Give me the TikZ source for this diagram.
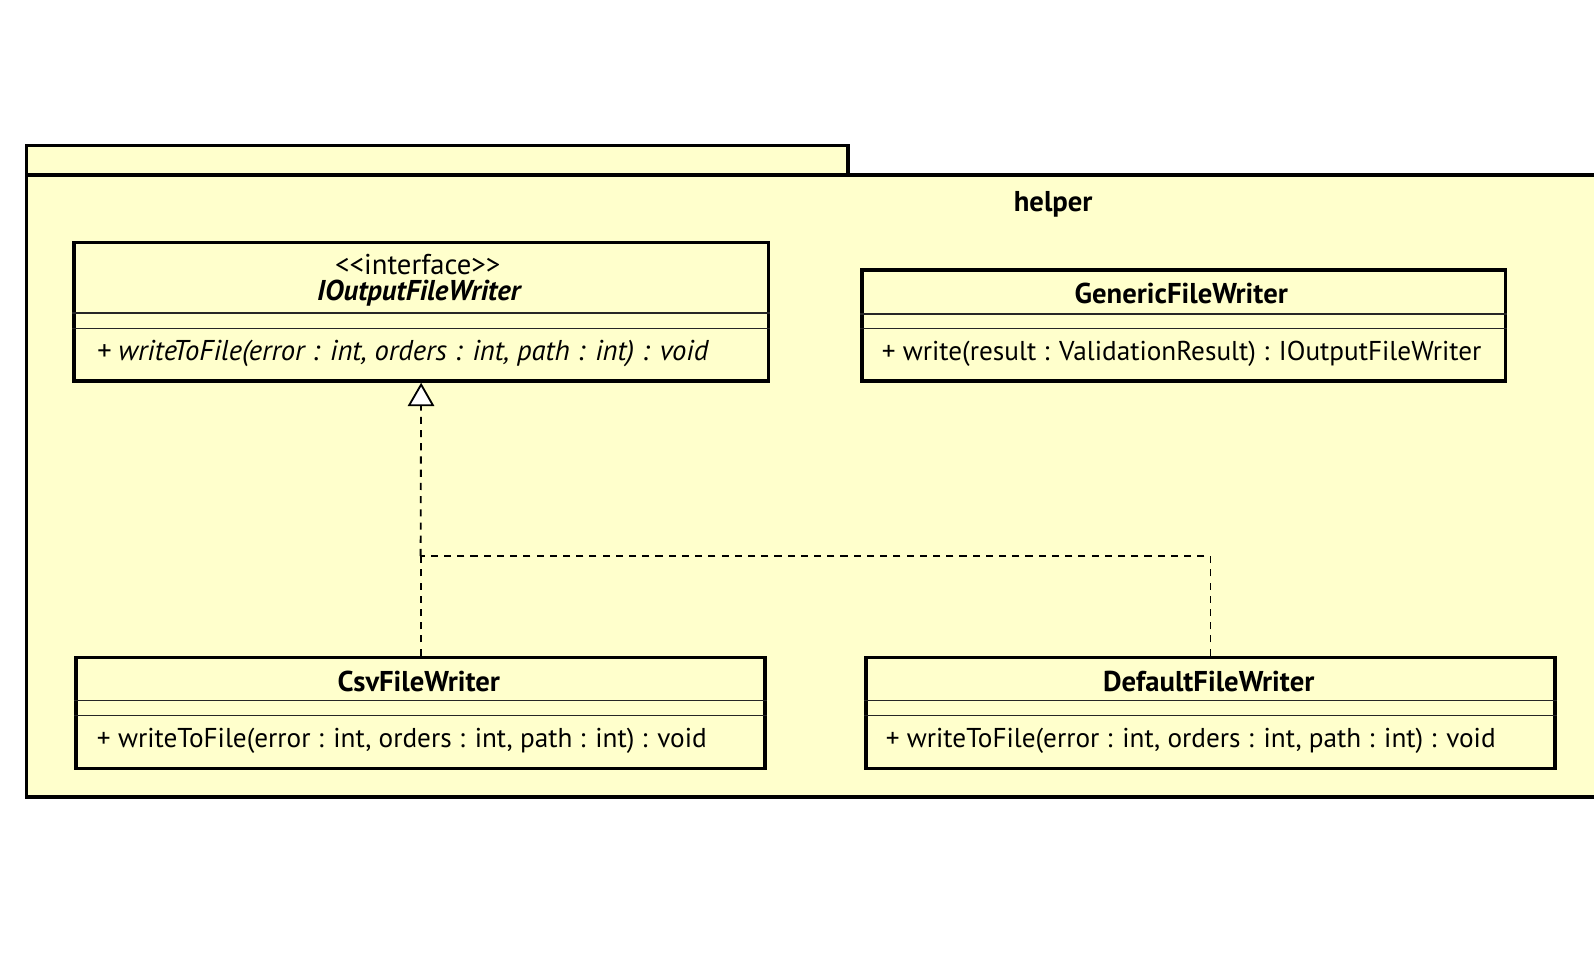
\documentclass[tikz,border=0pt]{standalone}
\usepackage{fontspec}
\setmainfont{PT Sans}
\usetikzlibrary{arrows.meta}
\definecolor{pkgfill}{HTML}{FFFFCC}
\newcommand{\umlfont}{\fontsize{14.1}{16}\selectfont}
\newcommand{\umlmemberfont}{\fontsize{13.4}{16}\selectfont}
\begin{document}
\begin{tikzpicture}[x=0.5pt,y=-0.5pt,
  font=\umlfont,
  pkgline/.style={draw=black, line width=1.75pt},
  classbox/.style={draw=black, line width=1.75pt, fill=pkgfill, inner sep=0pt, anchor=north west},
  sepline/.style={draw=black!85, line width=0.7pt},
  cname/.style={font=\umlfont\bfseries, inner sep=0pt},
  member/.style={anchor=west, inner sep=0pt, font=\umlmemberfont},
  realizes/.style={draw=black, line width=0.9pt, dash pattern=on 3.5pt off 3pt},
  hollowtip/.style={-{Triangle[length=11.5pt,width=13pt,fill=white,line width=0.9pt]}}
]
\useasboundingbox (0,0) rectangle (1568,958);
\fill[white] (0,0) rectangle (1568,958);
\clip (0,0) rectangle (1568,958);
% package
\fill[pkgfill] (26,143) rectangle (834,172);
\draw[pkgline] (26,172) -- (26,143) -- (834,143) -- (834,172);
\fill[pkgfill] (26,172) rectangle (1580,784);
\draw[pkgline] (1580,172) -- (26,172) -- (26,784) -- (1580,784);
\node[cname] (helper) at (1036,201) {helper};

% IOutputFileWriter
\node[classbox, minimum width=341.5pt, minimum height=68pt] (iface) at (71,237) {};
\node[inner sep=0pt] (ster) at (411,260) {{<}{<}interface{>}{>}};
\node[cname, font=\umlfont\bfseries\itshape] (ifacename) at (412,288) {IOutputFileWriter};
\draw[sepline] (iface.west |- 0,308) -- (iface.east |- 0,308);
\draw[sepline] (iface.west |- 0,323) -- (iface.east |- 0,323);
\node[member, font=\umlfont\itshape] (ifacem) at (95,348) {+ writeToFile(error : int, orders : int, path : int) : void};

% GenericFileWriter
\node[classbox, minimum width=316.5pt, minimum height=54.5pt] (generic) at (846,264) {};
\node[cname] (genericname) at (1162,289) {GenericFileWriter};
\draw[sepline] (generic.west |- 0,309) -- (generic.east |- 0,309);
\draw[sepline] (generic.west |- 0,323) -- (generic.east |- 0,323);
\node[member] (genericm) at (867,348) {+ write(result : ValidationResult) : IOutputFileWriter};

% CsvFileWriter
\node[classbox, minimum width=339pt, minimum height=54.5pt] (csv) at (73,645) {};
\node[cname] (csvname) at (412,670) {CsvFileWriter};
\draw[sepline] (csv.west |- 0,689) -- (csv.east |- 0,689);
\draw[sepline] (csv.west |- 0,704) -- (csv.east |- 0,704);
\node[member] (csvm) at (95,729) {+ writeToFile(error : int, orders : int, path : int) : void};

% DefaultFileWriter
\node[classbox, minimum width=339pt, minimum height=54.5pt] (default) at (850,645) {};
\node[cname] (defaultname) at (1189,670) {DefaultFileWriter};
\draw[sepline] (default.west |- 0,689) -- (default.east |- 0,689);
\draw[sepline] (default.west |- 0,704) -- (default.east |- 0,704);
\node[member] (defaultm) at (871,729) {+ writeToFile(error : int, orders : int, path : int) : void};

% realizations
\coordinate (j) at (413,547);
\draw[realizes] (csv.north) -- (csv.north |- j);
\draw[realizes, hollowtip] (csv.north |- j) -- (iface.south);
\draw[realizes] (default.north) |- (j);
\end{tikzpicture}
\end{document}
